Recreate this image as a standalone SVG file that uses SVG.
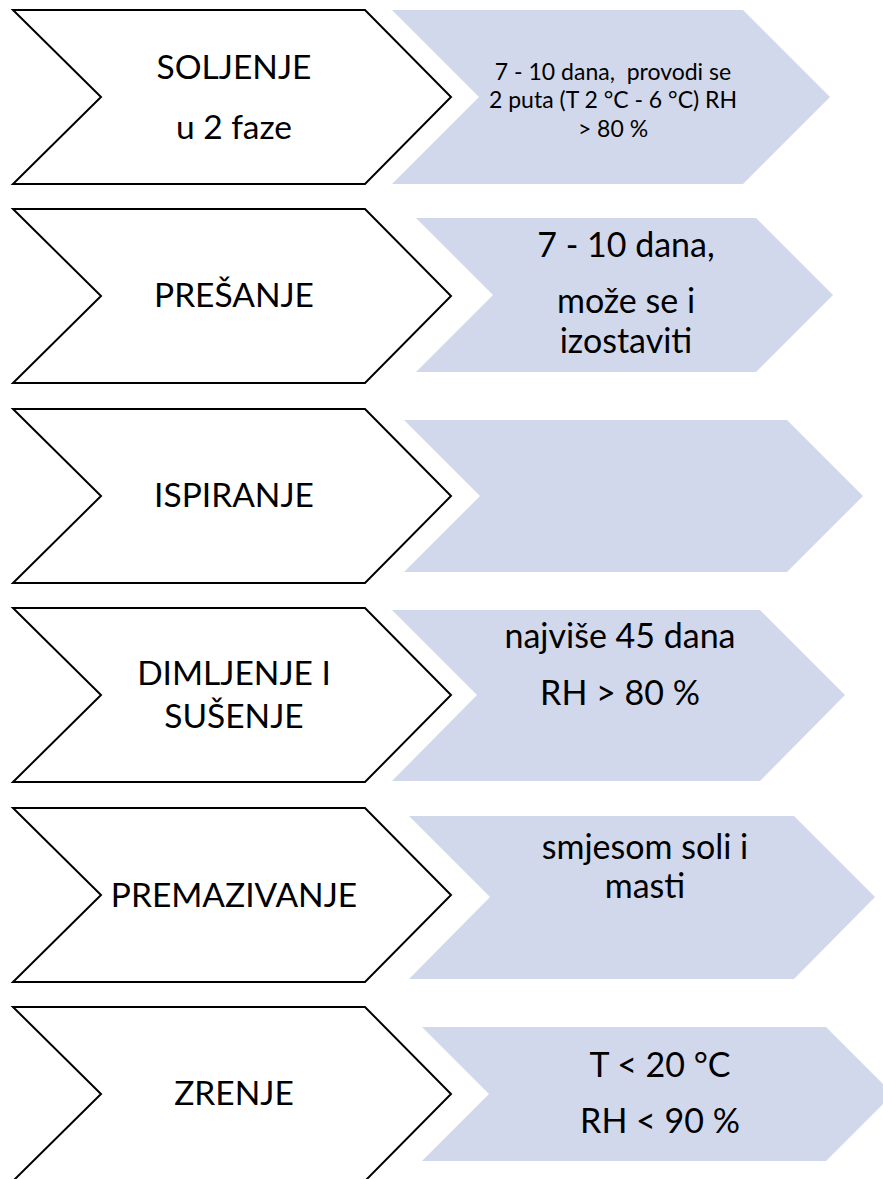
<svg xmlns="http://www.w3.org/2000/svg" width="883" height="1179" viewBox="0 0 883 1179">
<style>
.w{fill:#FFFFFF;stroke:#000000;stroke-width:2;stroke-linejoin:miter}
.b{fill:#D2D8EB;stroke:none}
.t{font-family:Lato,"Liberation Sans",sans-serif;fill:#000000;text-anchor:middle;white-space:pre}
.L{font-size:33.5px}
.M{font-size:34px}
.S{font-size:23px}
</style>
<rect width="883" height="1179" fill="#FFFFFF"/>
<g id="row1">
<polygon class="w" points="13,10 365,10 451,97 365,184 13,184 101,97"/>
<polygon class="b" points="392,10 743,10 830,97 743,184 392,184 479,97"/>
<text class="t L" x="234" y="79">SOLJENJE</text>
<text class="t L" x="234" y="139">u 2 faze</text>
<text class="t S" x="613" y="80" xml:space="preserve">7 - 10 dana,  provodi se</text>
<text class="t S" x="613" y="108">2 puta (T 2 °C - 6 °C) RH</text>
<text class="t S" x="613" y="137">&gt; 80 %</text>
</g>
<g id="row2">
<polygon class="w" points="13,209 365,209 451,296 365,383 13,383 101,296"/>
<polygon class="b" points="416,218 756,218 833,295 756,372 416,372 493,295"/>
<text class="t L" x="234" y="307">PREŠANJE</text>
<text class="t M" x="626" y="257">7 - 10 dana,</text>
<text class="t M" x="626" y="313">može se i</text>
<text class="t M" x="626" y="353">izostaviti</text>
</g>
<g id="row3">
<polygon class="w" points="13,409 365,409 451,496 365,583 13,583 101,496"/>
<polygon class="b" points="404,420 787,420 863,496 787,572 404,572 480,496"/>
<text class="t L" x="234" y="507">ISPIRANJE</text>
</g>
<g id="row4">
<polygon class="w" points="13,608 365,608 451,695 365,782 13,782 101,695"/>
<polygon class="b" points="392,610 760,610 845,695 760,781 392,781 477,695"/>
<text class="t L" x="234" y="685">DIMLJENJE I</text>
<text class="t L" x="234" y="728">SUŠENJE</text>
<text class="t M" x="620" y="648">najviše 45 dana</text>
<text class="t M" x="620" y="705">RH &gt; 80 %</text>
</g>
<g id="row5">
<polygon class="w" points="13,808 365,808 451,895 365,982 13,982 101,895"/>
<polygon class="b" points="409,816 794,816 875,897 794,979 409,979 490,897"/>
<text class="t L" x="234" y="907">PREMAZIVANJE</text>
<text class="t M" x="645" y="859">smjesom soli i</text>
<text class="t M" x="645" y="898">masti</text>
</g>
<g id="row6">
<polygon class="w" points="13,1007 365,1007 451,1094 365,1181 13,1181 101,1094"/>
<polygon class="b" points="422,1027 826,1027 893,1094 826,1161 422,1161 489,1094"/>
<text class="t L" x="234" y="1105">ZRENJE</text>
<text class="t M" x="660" y="1077">T &lt; 20 °C</text>
<text class="t M" x="660" y="1133">RH &lt; 90 %</text>
</g>
<g id="connectors"/>
</svg>
